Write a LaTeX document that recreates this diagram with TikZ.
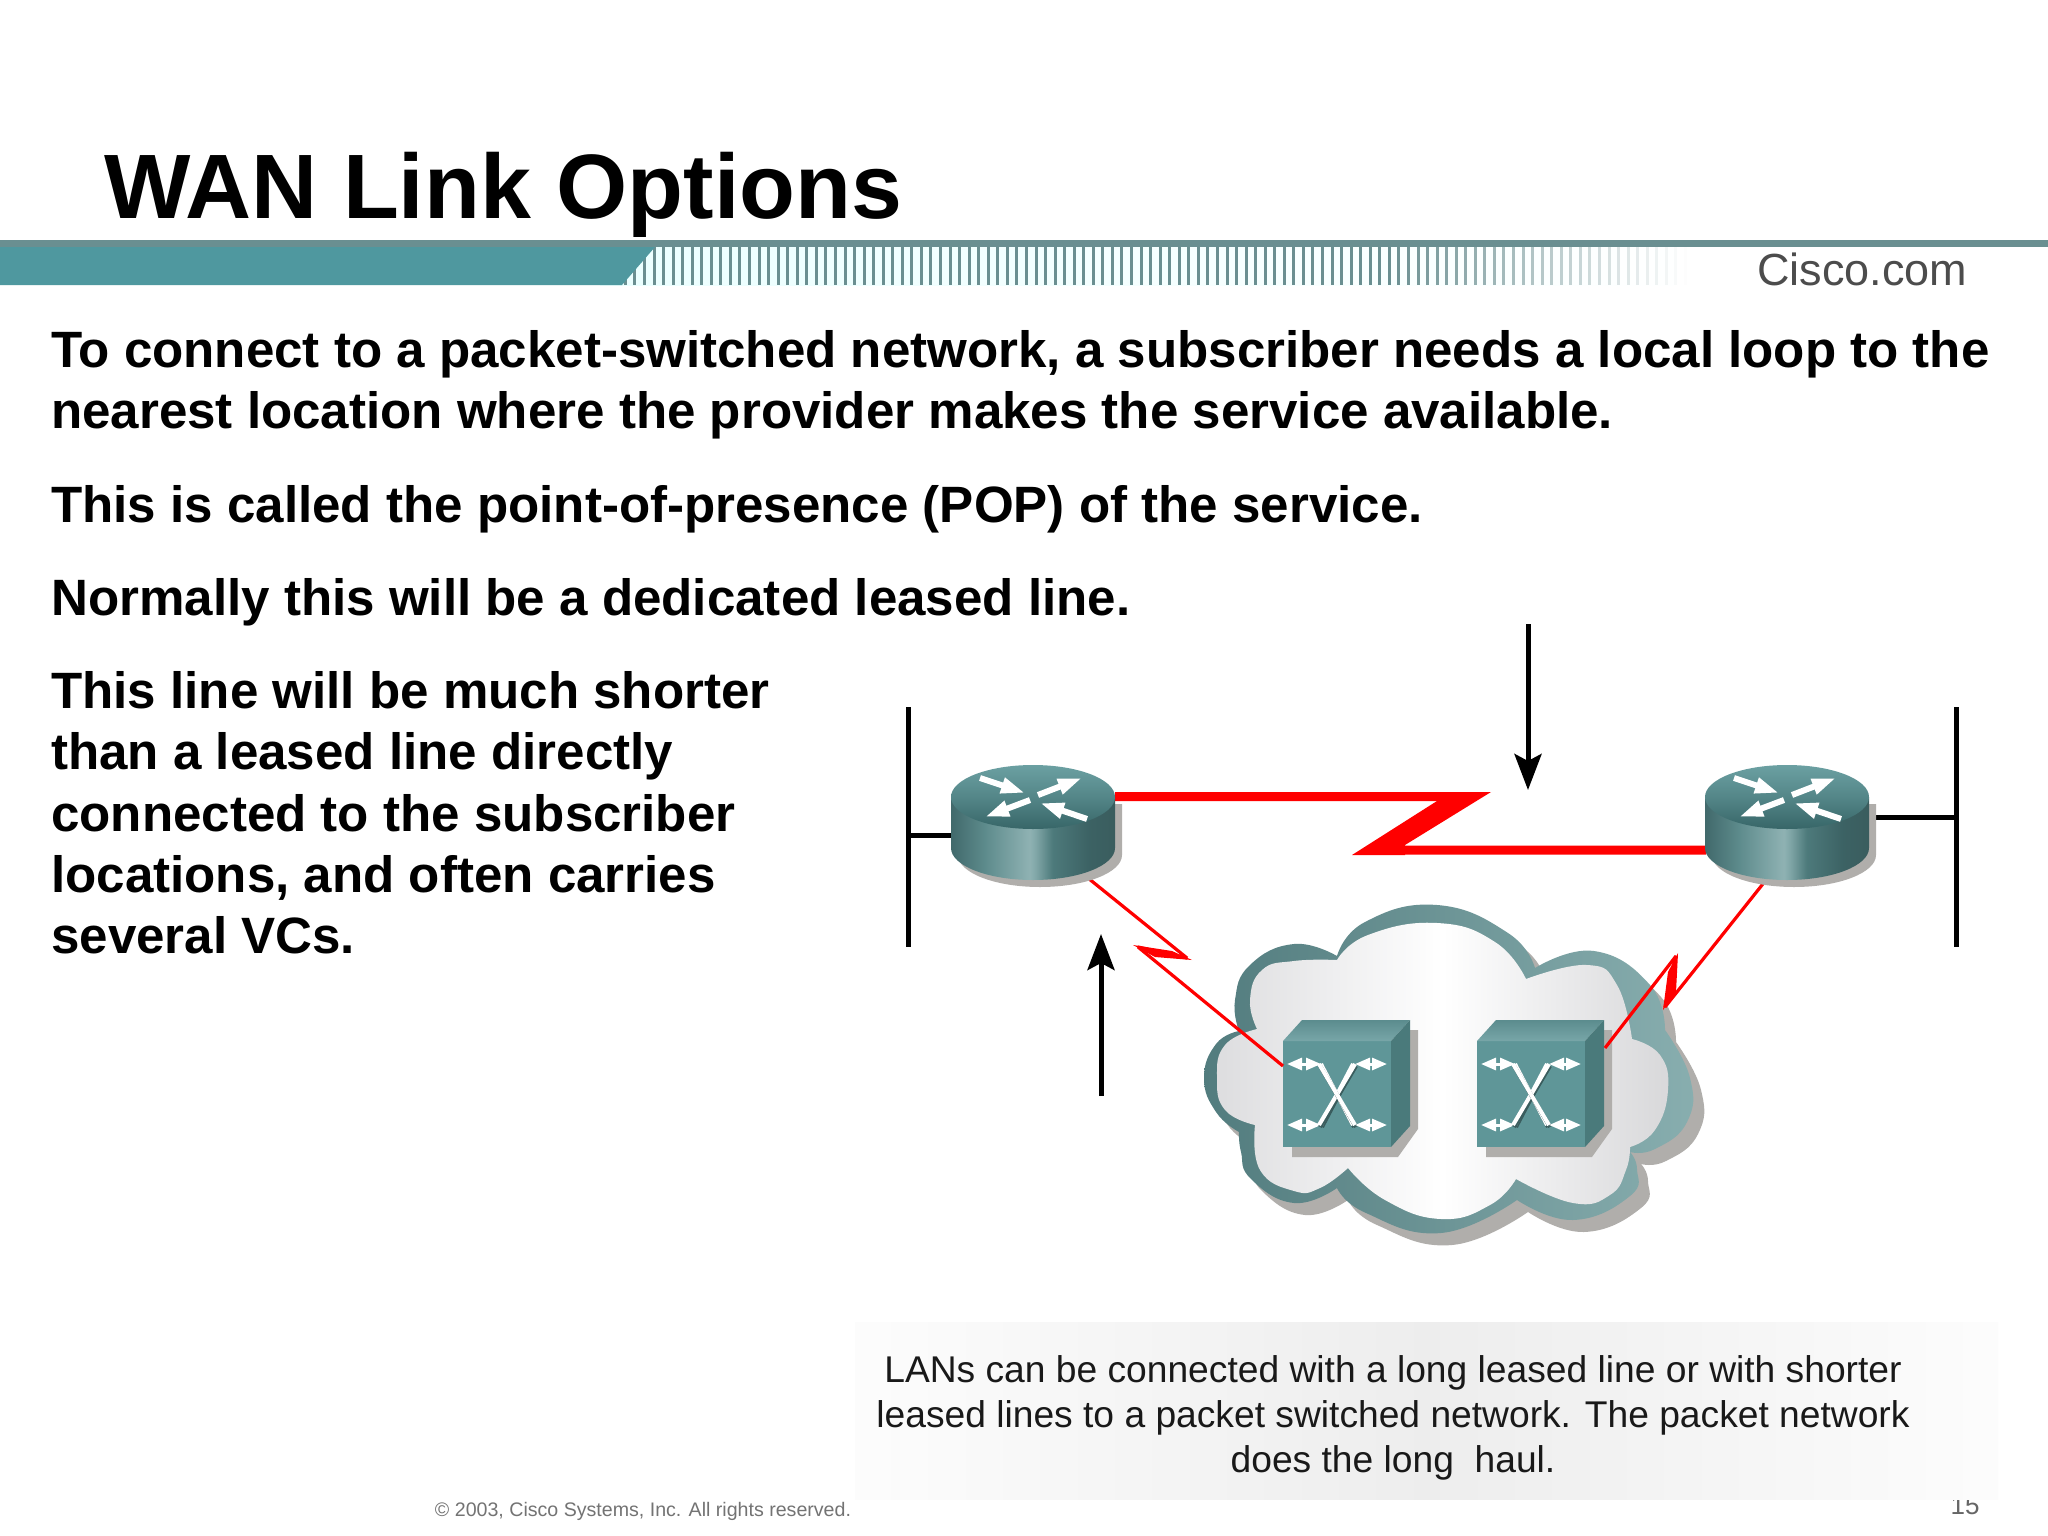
\documentclass[tikz,border=0pt]{standalone}
\usepackage{fontspec}
\setmainfont{Liberation Sans}
\usetikzlibrary{arrows.meta}
\definecolor{bandteal}{HTML}{4F989F}
\definecolor{stripgrey}{HTML}{6A8F91}
\definecolor{shadowgrey}{HTML}{B0AEAB}
\definecolor{rs0}{HTML}{41696B}
\definecolor{rs1}{HTML}{5C8A8B}
\definecolor{rs2}{HTML}{8FB2B3}
\definecolor{rs3}{HTML}{7FA5A6}
\definecolor{rs4}{HTML}{4D7A7B}
\definecolor{rs5}{HTML}{3C6264}
\definecolor{rs6}{HTML}{3A5D5E}
\definecolor{rc1}{HTML}{6BA0A2}
\definecolor{rc2}{HTML}{548688}
\definecolor{rc3}{HTML}{376668}
\definecolor{swfront}{HTML}{5F9698}
\definecolor{swtop1}{HTML}{78A6A8}
\definecolor{swtop2}{HTML}{5B8C8E}
\definecolor{swside}{HTML}{4A7A7B}
\definecolor{swdark}{HTML}{3A5D5E}
\definecolor{cloudl}{HTML}{527C7E}
\definecolor{cloudr}{HTML}{88AEAF}
\definecolor{cloudil}{HTML}{DDDDDF}
\definecolor{cloudir}{HTML}{D8D8DA}
\pgfdeclarehorizontalshading{routerside}{100bp}{
  color(0bp)=(rs0); color(25bp)=(rs0); color(35bp)=(rs1); color(49bp)=(rs2); color(51bp)=(rs3);
  color(56bp)=(rs4); color(67bp)=(rs5); color(75bp)=(rs6); color(100bp)=(rs6)}
\tikzset{
  shadowfill/.style={fill=shadowgrey},
  bodytext/.style={anchor=north west,align=left,inner sep=0pt,font=\bfseries\fontsize{51.1}{61.4}\selectfont},
  lanbar/.style={line width=5pt},
  leased/.style={draw=red,line width=9pt,line join=bevel},
  localloop/.style={draw=red,line width=3.2pt,line join=bevel},
  callout/.style={line width=5pt,-{Stealth[length=36pt,width=27pt,inset=7pt]}},
  whitearrow/.style={draw=white,line width=6pt,-{Triangle[length=24pt,width=15pt]}},
  whitetrack/.style={draw=white,line width=4pt},
  router/.pic={
    \fill[shadowfill,shift={(7,7)}] \routerout;
    \shade[shading=routerside] \routerout;
    \shade[top color=rc1,bottom color=rc3,middle color=rc2] (0,0) ellipse [x radius=82pt,y radius=32pt];
    \draw[whitearrow] (-53,-19) -- (-8,-4);
    \draw[whitearrow] (5,-2) -- (49,-19);
    \draw[whitearrow] (-3,3) -- (-48,20);
    \draw[whitearrow] (54,22) -- (7,6);
  },
  switchbox/.pic={
    \fill[shadowfill] (127,-11) -- (135,-11) -- (135,88) -- (115,116) -- (9,116) -- (9,100) -- cycle;
    \fill[swfront] (0,0) rectangle (108,106);
    \shade[bottom color=swtop1,top color=swtop2] (0,0) -- (19,-21) -- (127,-21) -- (108,0) -- cycle;
    \fill[swside] (108,0) -- (127,-21) -- (127,85) -- (108,106) -- cycle;
    \foreach \ya/\yb/\xa/\xb in {23/84/4/38,84/23/4/38,23/84/104/72,84/23/104/72} {
      \draw[swdark,line width=4pt] (\xb+1,\ya+2) -- (108-\xb+1,\yb+2);
      \draw[whitetrack] (\xb,\ya) -- (108-\xb,\yb);
      \draw[white,line width=3pt,{Triangle[length=15pt,width=12pt]}-{Triangle[length=15pt,width=12pt]}] (\xa,\ya) -- (\xb,\ya);
    }
  }
}
\def\routerout{(-82,0) -- (-82,51) .. controls (-82,68.7) and (-45.3,83) .. (0,83) .. controls (45.3,83) and (82,68.7) .. (82,51) -- (82,0) -- cycle}
\def\cloudouter{plot[smooth,tension=.8] coordinates {(1337,956) (1365,922) (1437,905) (1508,933) (1535,968)}
  -- plot[smooth,tension=.8] coordinates {(1535,968) (1594,951) (1650,985) (1665,1030)}
  -- plot[smooth,tension=.8] coordinates {(1665,1030) (1690,1078) (1687,1122) (1655,1149) (1630,1152)}
  -- plot[smooth,tension=.8] coordinates {(1630,1152) (1637,1169) (1630,1196) (1573,1220) (1517,1200)}
  -- plot[smooth,tension=.8] coordinates {(1517,1200) (1441,1233) (1366,1213) (1337,1188)}
  -- plot[smooth,tension=.8] coordinates {(1337,1188) (1294,1203) (1251,1179) (1241,1152) (1239,1132)}
  -- plot[smooth,tension=.8] coordinates {(1239,1132) (1216,1112) (1204,1078) (1216,1044) (1239,1031)}
  -- plot[smooth,tension=.8] coordinates {(1239,1031) (1235,1000) (1250,965) (1294,944) (1337,956)} -- cycle}
\def\cloudinner{plot[smooth,tension=.8] coordinates {(1337,960) (1368,935) (1437,923) (1495,942) (1526,979)}
  -- plot[smooth,tension=.8] coordinates {(1526,979) (1587,965) (1617,985) (1632,1039)}
  -- plot[smooth,tension=.8] coordinates {(1632,1039) (1660,1055) (1668,1090) (1655,1130) (1630,1147)}
  -- plot[smooth,tension=.8] coordinates {(1630,1147) (1626,1170) (1610,1195) (1573,1203) (1516,1179)}
  -- plot[smooth,tension=.8] coordinates {(1516,1179) (1490,1205) (1441,1219) (1385,1200) (1348,1168)}
  -- plot[smooth,tension=.8] coordinates {(1348,1168) (1320,1188) (1294,1191) (1260,1170) (1255,1125)}
  -- plot[smooth,tension=.8] coordinates {(1255,1125) (1225,1110) (1217,1078) (1225,1045) (1257,1029)}
  -- plot[smooth,tension=.8] coordinates {(1257,1029) (1250,1000) (1262,970) (1294,961) (1337,960)} -- cycle}
\begin{document}
\begin{tikzpicture}[x=1pt,y=-1pt]
  \useasboundingbox (0,0) rectangle (2048,1536);
  \fill[white] (0,0) rectangle (2048,1536);
  % header band
  \shade[left color=cyan!8,right color=white] (600,247) rectangle (1700,285);
  \foreach \k in {0,...,111} {
    \pgfmathsetmacro\sx{625.35+9.55*\k}
    \pgfmathsetmacro\so{min(100,(1690-\sx)/3)}
    \fill[stripgrey!\so!white] (\sx-1.5,247) rectangle (\sx+1.5,285);
  }
  \fill[bandteal] (0,247) -- (655,247) -- (622,285) -- (0,285) -- cycle;
  \fill[stripgrey] (0,240) rectangle (2048,247);
  \node[anchor=base west,inner sep=0pt,font=\bfseries\fontsize{91.5}{92}\selectfont] (title) at (104,218) {WAN Link Options};
  \node[anchor=base west,inner sep=0pt,text=black!70,font=\fontsize{45}{45}\selectfont] (brand) at (1757,285) {Cisco.com};
  % text on the left
  \node[bodytext] (para1) at (51,330) {To connect to a packet-switched network, a subscriber needs a local loop to the\\nearest location where the provider makes the service available.};
  \node[bodytext] (para2) at (51,485) {This is called the point-of-presence (POP) of the service.};
  \node[bodytext] (para3) at (51,578) {Normally this will be a dedicated leased line.};
  \node[bodytext] (para4) at (51,671) {This line will be much shorter\\than a leased line directly\\connected to the subscriber\\locations, and often carries\\several VCs.};
  % cloud
  \fill[shadowfill,shift={(11,12)}] \cloudouter;
  \shade[left color=cloudl,right color=cloudr] \cloudouter;
  \shade[left color=cloudil,right color=cloudir,middle color=white] \cloudinner;
  \pic at (1283,1041) {switchbox};
  \pic at (1477,1041) {switchbox};
  % ends of the links
  \coordinate (routerL-e) at (1115,796.5);
  \coordinate (routerL-w) at (951,835);
  \coordinate (routerL-s) at (1083,874);
  \coordinate (routerR-w) at (1706,850);
  \coordinate (routerR-e) at (1869,817);
  \coordinate (routerR-s) at (1766,880);
  \coordinate (switchA-w) at (1283,1066);
  \coordinate (switchB-e) at (1605,1048);
  \coordinate (lanL-n) at (908,707);
  \coordinate (lanL-s) at (908,947);
  \coordinate (lanR-n) at (1956,707);
  \coordinate (lanR-s) at (1956,947);
  \coordinate (arrowA-a) at (1528,624);
  \coordinate (arrowA-b) at (1528,790);
  \coordinate (arrowB-a) at (1101,1096);
  \coordinate (arrowB-b) at (1101,934);
  % links
  \draw[leased] (routerL-e) -- (1455,796.5) -- (1385,850) -- (routerR-w);
  \fill[red] (1437,792) -- (1491,792) -- (1405,845) -- (1405,855) -- (1352,855) -- (1437,801) -- cycle;
  \draw[localloop] (routerL-s) -- (1187,958) -- (1138,947) -- (switchA-w);
  \fill[red] (1192,960) -- (1155,957) -- (1133,945) -- (1172,951) -- cycle;
  \draw[localloop] (routerR-s) -- (1665,1007) -- (1676,956) -- (switchB-e);
  \fill[red] (1678,953) -- (1668,972) -- (1663,1010) -- (1676,992) -- cycle;
  \draw[lanbar] (lanL-n) -- (lanL-s);
  \draw[lanbar] (lanR-n) -- (lanR-s);
  \draw[lanbar] (lanL-n |- routerL-w) -- (routerL-w);
  \draw[lanbar] (routerR-e) -- (lanR-n |- routerR-e);
  \pic at (1033,797) {router};
  \pic at (1787,797) {router};
  \draw[callout] (arrowA-a) -- (arrowA-b);
  \draw[callout] (arrowB-a) -- (arrowB-b);
  % footer and caption
  \node[inner sep=0pt,text=black!55,font=\fontsize{19.6}{21}\selectfont] (copyright) at (643,1511) {© 2003, Cisco Systems, Inc. All rights reserved.};
  \node[inner sep=0pt,text=black!60,font=\fontsize{26}{26}\selectfont] (pagenum) at (1965,1506) {15};
  \shade[left color=black!1,right color=black!1,middle color=black!7] (855,1322) rectangle (1998,1499);
  \node[inner sep=0pt,align=center,text=black!90,font=\fontsize{37.2}{45}\selectfont] (caption) at (1393,1418) {LANs can be connected with a long leased line or with shorter\\leased lines to a packet switched network. The packet network\\does the long \ haul.};
\end{tikzpicture}
\end{document}
